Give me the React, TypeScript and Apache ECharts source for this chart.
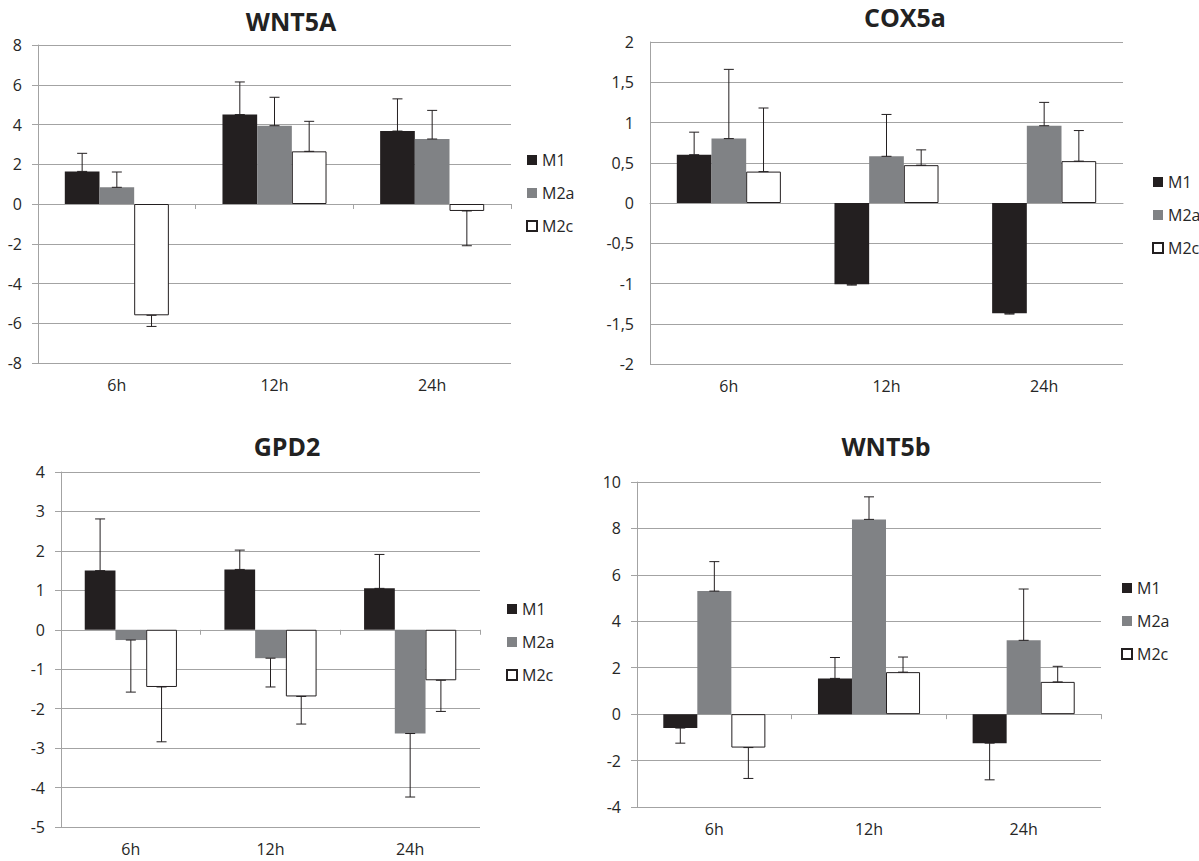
import React, { useEffect, useRef } from 'react';
import * as echarts from 'echarts';

// ---- data ----
const categories = ['6h', '12h', '24h'];
const groupNames = ['M1', 'M2a', 'M2c'];

const wnt5aM1 = [1.64, 4.5, 3.67];
const wnt5aM2a = [0.84, 3.94, 3.27];
const wnt5aM2c = [-5.6, 2.65, -0.35];
const wnt5aM1Err = [0.91, 1.64, 1.62];
const wnt5aM2aErr = [0.77, 1.43, 1.44];
const wnt5aM2cErr = [0.56, 1.51, 1.75];

const cox5aM1 = [0.6, -1.01, -1.37];
const cox5aM2a = [0.8, 0.58, 0.96];
const cox5aM2c = [0.39, 0.47, 0.52];
const cox5aM1Err = [0.28, 0.01, 0.01];
const cox5aM2aErr = [0.86, 0.52, 0.29];
const cox5aM2cErr = [0.79, 0.19, 0.38];

const gpd2M1 = [1.5, 1.53, 1.05];
const gpd2M2a = [-0.26, -0.72, -2.63];
const gpd2M2c = [-1.45, -1.69, -1.28];
const gpd2M1Err = [1.31, 0.49, 0.86];
const gpd2M2aErr = [1.32, 0.73, 1.61];
const gpd2M2cErr = [1.39, 0.7, 0.79];

const wnt5bM1 = [-0.6, 1.54, -1.25];
const wnt5bM2a = [5.3, 8.39, 3.18];
const wnt5bM2c = [-1.44, 1.81, 1.39];
const wnt5bM1Err = [0.65, 0.9, 1.58];
const wnt5bM2aErr = [1.27, 0.97, 2.21];
const wnt5bM2cErr = [1.33, 0.65, 0.67];

const titles = ['WNT5A', 'COX5a', 'GPD2', 'WNT5b'];
const yMins = [-8, -2, -5, -4];
const yMaxs = [8, 2, 4, 10];
const yIntervals = [2, 0.5, 1, 2];

// ---- styles / layout ----
const FONT = '"Open Sans", "DejaVu Sans", sans-serif';
const GRID_COLOR = '#a3a3a3';
const TEXT_COLOR = '#262626';
const SMALL_FONT = 16;
const BAR_FILL = ['#231f20', '#808285', '#ffffff'];
const BAR_BORDER = ['#231f20', '#808285', '#231f20'];
const CAT_GAP = 0.34;

const panels = [
  {
    values: [wnt5aM1, wnt5aM2a, wnt5aM2c],
    errors: [wnt5aM1Err, wnt5aM2aErr, wnt5aM2cErr],
    grid: { left: 38, top: 45, width: 473, height: 318 },
    titlePos: [291, 8],
    legendPos: [526, 152],
    ticks: true,
    comma: false,
  },
  {
    values: [cox5aM1, cox5aM2a, cox5aM2c],
    errors: [cox5aM1Err, cox5aM2aErr, cox5aM2cErr],
    grid: { left: 650, top: 42, width: 473, height: 322 },
    titlePos: [905, 4],
    legendPos: [1152, 174],
    ticks: false,
    comma: true,
  },
  {
    values: [gpd2M1, gpd2M2a, gpd2M2c],
    errors: [gpd2M1Err, gpd2M2aErr, gpd2M2cErr],
    grid: { left: 61, top: 472, width: 419, height: 355 },
    titlePos: [287, 433],
    legendPos: [506, 601],
    ticks: true,
    comma: false,
  },
  {
    values: [wnt5bM1, wnt5bM2a, wnt5bM2c],
    errors: [wnt5bM1Err, wnt5bM2aErr, wnt5bM2cErr],
    grid: { left: 637, top: 482, width: 464, height: 325 },
    titlePos: [886, 433],
    legendPos: [1121, 580],
    ticks: true,
    comma: false,
  },
];

function buildOption() {
  const grid: any[] = [];
  const xAxis: any[] = [];
  const yAxis: any[] = [];
  const series: any[] = [];
  const title: any[] = [];
  const legend: any[] = [];

  panels.forEach((p, pi) => {
    grid.push({ ...p.grid, containLabel: false });
    title.push({
      text: titles[pi],
      left: p.titlePos[0],
      top: p.titlePos[1],
      textAlign: 'center',
      padding: 0,
      textStyle: { fontFamily: FONT, fontSize: 25, fontWeight: 'bold', color: '#222222' },
    });
    legend.push({
      data: groupNames,
      orient: 'vertical',
      left: p.legendPos[0],
      top: p.legendPos[1],
      padding: 0,
      itemGap: 17,
      itemWidth: 10,
      itemHeight: 10,
      icon: 'rect',
      selectedMode: false,
      textStyle: { fontFamily: FONT, fontSize: SMALL_FONT, color: TEXT_COLOR },
    });
    // labels axis (bottom of the plot)
    xAxis.push({
      type: 'category',
      gridIndex: pi,
      data: categories,
      position: 'bottom',
      axisLine: { show: false, onZero: false },
      axisTick: { show: false },
      splitLine: { show: false },
      axisLabel: { margin: 14, fontFamily: FONT, fontSize: SMALL_FONT, color: TEXT_COLOR },
    });
    // zero line axis with ticks between categories
    xAxis.push({
      type: 'category',
      gridIndex: pi,
      data: categories,
      position: 'top',
      axisLine: { show: true, onZero: true, lineStyle: { color: GRID_COLOR, width: 1 } },
      axisTick: { show: p.ticks, inside: true, length: 5, lineStyle: { color: GRID_COLOR } },
      axisLabel: { show: false },
      splitLine: { show: false },
    });
    yAxis.push({
      type: 'value',
      gridIndex: pi,
      min: yMins[pi],
      max: yMaxs[pi],
      interval: yIntervals[pi],
      axisLine: { show: true, lineStyle: { color: GRID_COLOR, width: 1 } },
      axisTick: { show: p.ticks, length: 6, lineStyle: { color: GRID_COLOR } },
      splitLine: { show: true, lineStyle: { color: GRID_COLOR, width: 1 } },
      axisLabel: {
        margin: 16,
        fontFamily: FONT,
        fontSize: SMALL_FONT,
        color: TEXT_COLOR,
        formatter: (v: number) => (p.comma ? String(v).replace('.', ',') : String(v)),
      },
    });

    groupNames.forEach((name, gi) => {
      series.push({
        type: 'bar',
        name,
        xAxisIndex: pi * 2,
        yAxisIndex: pi,
        data: p.values[gi],
        barGap: '0%',
        barCategoryGap: CAT_GAP * 100 + '%',
        itemStyle: {
          color: BAR_FILL[gi],
          borderColor: BAR_BORDER[gi],
          borderWidth: gi === 2 ? 1 : 0,
        },
        z: 2,
      });
    });
    groupNames.forEach((name, gi) => {
      series.push({
        type: 'custom',
        xAxisIndex: pi * 2,
        yAxisIndex: pi,
        silent: true,
        z: 5,
        encode: { x: 0, y: 1 },
        data: p.values[gi].map((v, ci) => [ci, v, p.errors[gi][ci]]),
        renderItem: (params: any, api: any) => {
          const ci = api.value(0);
          const v = api.value(1);
          const e = api.value(2);
          const band = api.size([1, 0])[0];
          const bw = (band * (1 - CAT_GAP)) / 3;
          const cx = api.coord([ci, 0])[0] + (gi - 1) * bw;
          const end = v >= 0 ? v + e : v - e;
          const y0 = api.coord([ci, v])[1];
          const y1 = api.coord([ci, end])[1];
          const style = { stroke: '#231f20', lineWidth: 1 };
          const cap = 5;
          return {
            type: 'group',
            children: [
              { type: 'line', shape: { x1: cx, y1: y0, x2: cx, y2: y1 }, style },
              { type: 'line', shape: { x1: cx - cap, y1: y1, x2: cx + cap, y2: y1 }, style },
              { type: 'line', shape: { x1: cx - cap, y1: y0, x2: cx + cap, y2: y0 }, style },
            ],
          };
        },
      });
    });
  });

  return {
    animation: false,
    backgroundColor: '#ffffff',
    title,
    legend,
    grid,
    xAxis,
    yAxis,
    series,
  };
}

export default function App() {
  const ref = useRef<HTMLDivElement>(null);
  useEffect(() => {
    if (!ref.current) return;
    const chart = echarts.init(ref.current, null, { renderer: 'svg' });
    chart.setOption(buildOption() as any);
    return () => chart.dispose();
  }, []);
  return (
    <div
      ref={ref}
      style={{ position: 'fixed', left: 0, top: 0, width: 1199, height: 861, background: '#fff' }}
    />
  );
}
